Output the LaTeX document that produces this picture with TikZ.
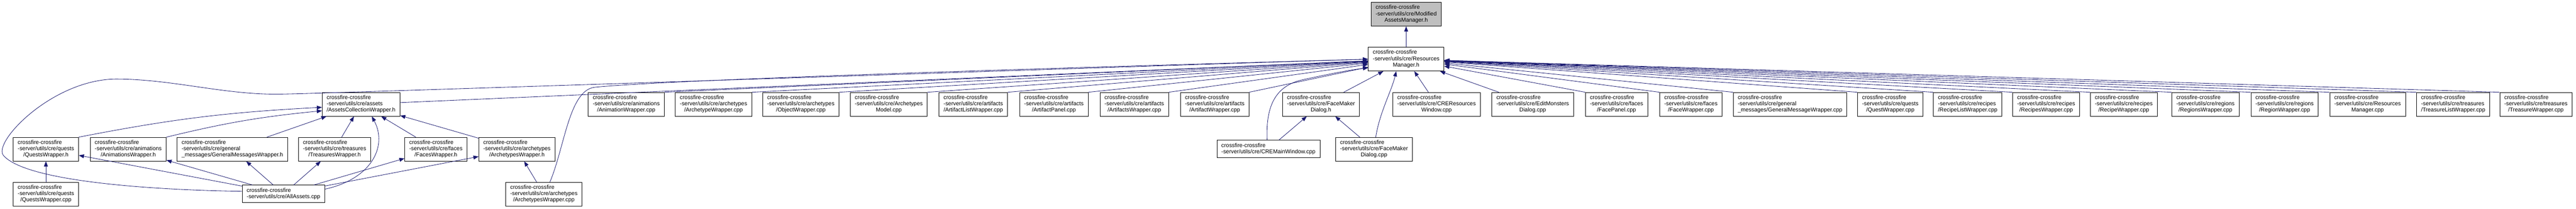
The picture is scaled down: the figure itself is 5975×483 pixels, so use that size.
\documentclass[tikz,border=0pt]{standalone}
\usepackage{fontspec}
\newfontfamily\dxfont{Liberation Sans}
\usetikzlibrary{arrows.meta}
\definecolor{incblue}{HTML}{191970}
\newcommand{\flab}[2]{\begin{tabular}{@{}l@{}}crossfire-crossfire\\#1\\\multicolumn{1}{@{}c@{}}{#2}\end{tabular}}
\newcommand{\flabtwo}[1]{\begin{tabular}{@{}l@{}}crossfire-crossfire\\#1\end{tabular}}

\begin{document}
\begin{tikzpicture}
        [x=1pt, y=-1pt,
        file/.style={draw=black, line width=0.9pt, fill=white, inner xsep=10.5pt, inner ysep=5.75pt, font={\dxfont\fontsize{13}{14.5}\selectfont}},
        cur/.style={file, fill=black!25},
        incl/.style={draw=incblue, line width=1pt, -{Triangle[length=12pt,width=9pt]}}]

        \useasboundingbox (0,0) rectangle (5975,483);

        % the file itself and its direct includer
        \node[cur] (mod) at (3261.5,33) {\flab{-server/utils/cre/Modified}{AssetsManager.h}};
        \node[file] (rm) at (3261.5,137) {\flab{-server/utils/cre/Resources}{Manager.h}};

        % second row
        \node[file] (acw) at (837.5,241.5) {\flab{-server/utils/cre/assets}{/AssetsCollectionWrapper.h}};
        \node[file] (anw) at (1452.5,241.5) {\flab{-server/utils/cre/animations}{/AnimationWrapper.cpp}};
        \node[file] (atw) at (1655,241.5) {\flab{-server/utils/cre/archetypes}{/ArchetypeWrapper.cpp}};
        \node[file] (obw) at (1857.5,241.5) {\flab{-server/utils/cre/archetypes}{/ObjectWrapper.cpp}};
        \node[file] (arm) at (2061.5,241.5) {\flab{-server/utils/cre/Archetypes}{Model.cpp}};
        \node[file] (alw) at (2257.5,241.5) {\flab{-server/utils/cre/artifacts}{/ArtifactListWrapper.cpp}};
        \node[file] (apn) at (2444.5,241.5) {\flab{-server/utils/cre/artifacts}{/ArtifactPanel.cpp}};
        \node[file] (asw) at (2631,241.5) {\flab{-server/utils/cre/artifacts}{/ArtifactsWrapper.cpp}};
        \node[file] (afw) at (2817.5,241.5) {\flab{-server/utils/cre/artifacts}{/ArtifactWrapper.cpp}};
        \node[file] (fmdh) at (3064,241.5) {\flab{-server/utils/cre/FaceMaker}{Dialog.h}};
        \node[file] (crw) at (3332,241.5) {\flab{-server/utils/cre/CREResources}{Window.cpp}};
        \node[file] (emd) at (3555,241.5) {\flab{-server/utils/cre/EditMonsters}{Dialog.cpp}};
        \node[file] (fpn) at (3749.5,241.5) {\flab{-server/utils/cre/faces}{/FacePanel.cpp}};
        \node[file] (fcw) at (3922,241.5) {\flab{-server/utils/cre/faces}{/FaceWrapper.cpp}};
        \node[file] (gmw) at (4152,241.5) {\flab{-server/utils/cre/general}{\_messages/GeneralMessageWrapper.cpp}};
        \node[file] (qtw) at (4384.5,241.5) {\flab{-server/utils/cre/quests}{/QuestWrapper.cpp}};
        \node[file] (rlw) at (4564,241.5) {\flab{-server/utils/cre/recipes}{/RecipeListWrapper.cpp}};
        \node[file] (rsw) at (4746,241.5) {\flab{-server/utils/cre/recipes}{/RecipesWrapper.cpp}};
        \node[file] (rcw) at (4926,241.5) {\flab{-server/utils/cre/recipes}{/RecipeWrapper.cpp}};
        \node[file] (rgs) at (5115.5,241.5) {\flab{-server/utils/cre/regions}{/RegionsWrapper.cpp}};
        \node[file] (rgn) at (5299,241.5) {\flab{-server/utils/cre/regions}{/RegionWrapper.cpp}};
        \node[file] (rmc) at (5491.5,241.5) {\flab{-server/utils/cre/Resources}{Manager.cpp}};
        \node[file] (tlw) at (5690,241.5) {\flab{-server/utils/cre/treasures}{/TreasureListWrapper.cpp}};
        \node[file] (trw) at (5882,241.5) {\flab{-server/utils/cre/treasures}{/TreasureWrapper.cpp}};

        % third row
        \node[file] (qwh) at (106.5,345.5) {\flab{-server/utils/cre/quests}{/QuestsWrapper.h}};
        \node[file] (anh) at (297.5,345.5) {\flab{-server/utils/cre/animations}{/AnimationsWrapper.h}};
        \node[file] (gmh) at (539,345.5) {\flab{-server/utils/cre/general}{\_messages/GeneralMessagesWrapper.h}};
        \node[file] (twh) at (776,345.5) {\flab{-server/utils/cre/treasures}{/TreasuresWrapper.h}};
        \node[file] (fwh) at (1011,345.5) {\flab{-server/utils/cre/faces}{/FacesWrapper.h}};
        \node[file] (awh) at (1199,345.5) {\flab{-server/utils/cre/archetypes}{/ArchetypesWrapper.h}};
        \node[file] (cmw) at (2942,345) {\flabtwo{-server/utils/cre/CREMainWindow.cpp}};
        \node[file] (fmdc) at (3187,345.5) {\flab{-server/utils/cre/FaceMaker}{Dialog.cpp}};

        % fourth row
        \node[file] (qwc) at (106.5,449.5) {\flab{-server/utils/cre/quests}{/QuestsWrapper.cpp}};
        \node[file] (aa) at (657.5,449) {\flabtwo{-server/utils/cre/AllAssets.cpp}};
        \node[file] (awc) at (1261.5,449.5) {\flab{-server/utils/cre/archetypes}{/ArchetypesWrapper.cpp}};

        % includes of the top file
        \draw[incl] (rm) -- (mod);

        % second row into ResourcesManager.h
        \draw[incl] (acw) -- (rm);
        \draw[incl] (anw.north east) -- (rm);
        \draw[incl] (atw.north east) -- (rm);
        \draw[incl] (obw.north east) -- (rm);
        \draw[incl] (arm.north east) -- (rm);
        \draw[incl] (alw.north east) -- (rm);
        \draw[incl] (apn.north east) -- (rm);
        \draw[incl] (asw.north east) -- (rm);
        \draw[incl] (afw.north east) -- (rm);
        \draw[incl] (fmdh) -- (rm);
        \draw[incl] (crw) -- (rm);
        \draw[incl] (emd) -- (rm);
        \draw[incl] (fpn.north west) -- (rm);
        \draw[incl] (fcw.north west) -- (rm);
        \draw[incl] (gmw.north west) -- (rm);
        \draw[incl] (qtw.north west) -- (rm);
        \draw[incl] (rlw.north west) -- (rm);
        \draw[incl] (rsw.north west) -- (rm);
        \draw[incl] (rcw.north west) -- (rm);
        \draw[incl] (rgs.north west) -- (rm);
        \draw[incl] (rgn.north west) -- (rm);
        \draw[incl] (rmc.north west) -- (rm);
        \draw[incl] (tlw.north west) -- (rm);
        \draw[incl] (trw.north west) -- (rm);

        % wrappers into AssetsCollectionWrapper.h
        \draw[incl] (qwh.north east) to[bend left=4] ([yshift=-7pt]acw.west);
        \draw[incl] (anh.north east) to[bend left=4] ([yshift=-15pt]acw.west);
        \draw[incl] (gmh) -- (acw);
        \draw[incl] (twh) -- (acw);
        \draw[incl] (fwh) -- (acw);
        \draw[incl] (awh) -- (acw);

        % AllAssets.cpp
        \draw[incl] (aa) -- (qwh);
        \draw[incl] (aa) -- (anh);
        \draw[incl] (aa) -- (gmh);
        \draw[incl] (aa) -- (twh);
        \draw[incl] (aa) -- (fwh);
        \draw[incl] (aa) -- (awh);
        \draw[incl] ([yshift=11pt]aa.east) .. controls (860,415) and (900,340) .. ([xshift=25pt]acw.south);
        \draw[incl] ([yshift=6pt]aa.west) .. controls (350,440) and (60,420) .. (8,360)
            .. controls (-18,330) and (120,185) .. (268,183)
            .. controls (400,183) and (520,220) .. (650,218)
            .. controls (780,216) and (2800,148) .. (rm.west);

        % the rest of the bottom rows
        \draw[incl] (qwc) -- (qwh);
        \draw[incl] (awc) -- (awh);
        \draw[incl] ([xshift=14pt]awc.north) .. controls (1310,340) and (1320,208) .. (1380,202)
            .. controls (1600,180) and (2900,145) .. (rm.west);
        \draw[incl] (cmw) -- (fmdh);
        \draw[incl] (fmdc) -- (fmdh);
        \draw[incl] ([xshift=-3pt]cmw.north) .. controls (2936,250) and (2955,200) .. (3020,185)
            .. controls (3080,172) and (3130,162) .. ([yshift=-20pt]rm.west);
        \draw[incl] ([xshift=4pt]fmdc.north) .. controls (3200,260) and (3228,210) .. ([xshift=-23pt]rm.south);

\end{tikzpicture}
\end{document}
